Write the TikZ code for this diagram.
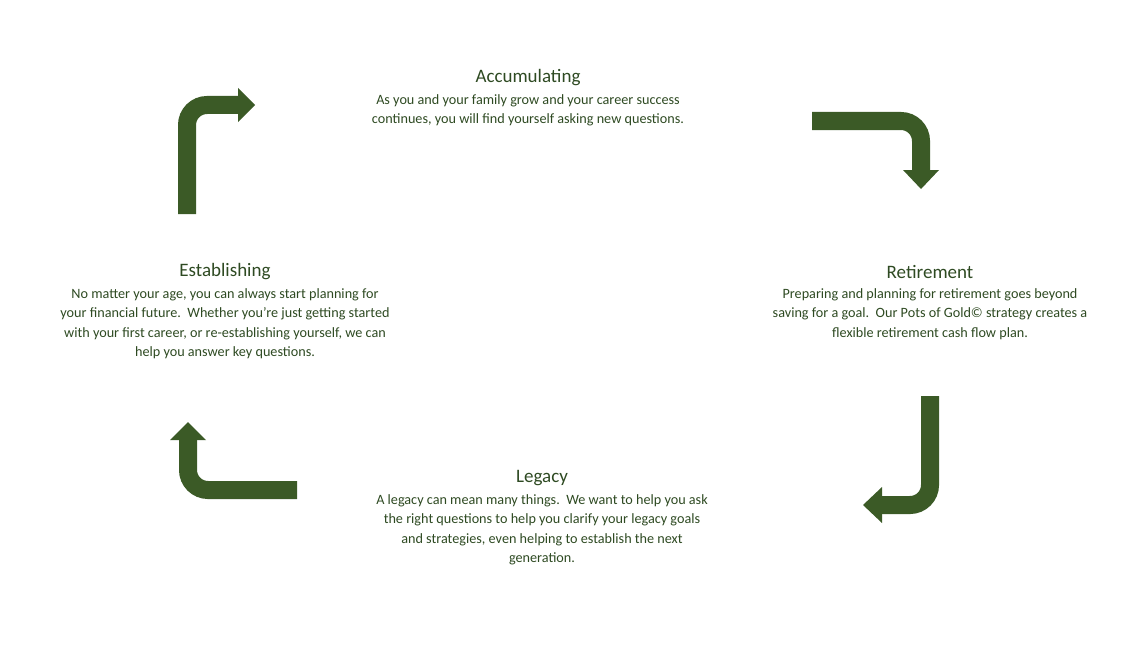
\documentclass[tikz,border=0pt]{standalone}
\usepackage{fontspec}
\setmainfont{Carlito}
\definecolor{ag}{HTML}{3B5A26}
\definecolor{tx}{HTML}{2E4A22}
\begin{document}
\begin{tikzpicture}[x=1pt,y=-1pt,
  shaft/.style={draw=ag,line width=18pt,rounded corners=20pt},
  head/.style={fill=ag},
  ttl/.style={font=\fontsize{19}{22}\selectfont,text=tx,anchor=center},
  body/.style={font=\fontsize{14.2}{19.5}\selectfont,text=tx,align=center,anchor=north}]
\useasboundingbox (0,0) rectangle (1139,658);
% arrow 1
\draw[shaft] (187,214) -- (187,105) -- (239,105);
\fill[head] (238,88) -- (255,105) -- (238,122) -- cycle;
% arrow 2
\draw[shaft] (812,121) -- (921,121) -- (921,171);
\fill[head] (903,170) -- (939,170) -- (921,189) -- cycle;
% arrow 3
\draw[shaft] (930,396) -- (930,505) -- (881,505);
\fill[head] (882,487) -- (882,523) -- (863,505) -- cycle;
% arrow 4
\draw[shaft] (297,490) -- (188,490) -- (188,439);
\fill[head] (170,440) -- (206,440) -- (188,422) -- cycle;
% texts
\node[ttl] (t1) at (528,78) {Accumulating};
\node[body] (b1) at (528,91) {As you and your family grow and your career success\\continues, you will find yourself asking new questions.};
\node[ttl] (t2) at (225,272) {Establishing};
\node[body] (b2) at (225,285) {No matter your age, you can always start planning for\\your financial future.\ \ Whether you’re just getting started\\with your first career, or re-establishing yourself, we can\\help you answer key questions.};
\node[ttl] (t3) at (930,272) {Retirement};
\node[body] (b3) at (930,285) {Preparing and planning for retirement goes beyond\\saving for a goal.\ \ Our Pots of Gold© strategy creates a\\flexible retirement cash flow plan.};
\node[ttl] (t4) at (542,478) {Legacy};
\node[body] (b4) at (542,491) {A legacy can mean many things.\ \ We want to help you ask\\the right questions to help you clarify your legacy goals\\and strategies, even helping to establish the next\\generation.};
\end{tikzpicture}
\end{document}
